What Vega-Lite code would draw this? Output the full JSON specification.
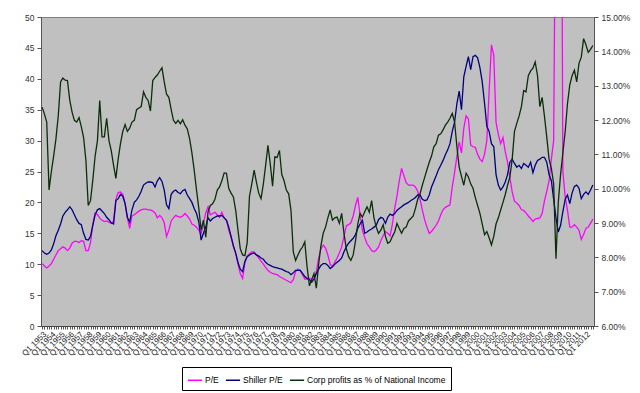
{
"$schema": "https://vega.github.io/schema/vega-lite/v6.json",
"width": 553, "height": 309,
"autosize": {"type": "none"},
"padding": {"left": 41, "top": 17, "right": 46, "bottom": 67},
"background": "white",
"config": {
  "font": "Liberation Sans",
  "view": {"fill": "#C0C0C0", "stroke": "#808080"},
  "axis": {"labelFont": "Liberation Sans", "labelColor": "#333333", "domainColor": "#555555", "tickColor": "#555555", "grid": false, "title": null, "labelFontSize": 8.5, "tickSize": 4, "labelPadding": 3}
},
"data": {"values": [
{"d":"1953-01","pe":10.1,"sh":12.2,"cp":0.1237},
{"d":"1953-04","pe":9.7,"sh":11.8,"cp":0.1217},
{"d":"1953-07","pe":9.4,"sh":11.6,"cp":0.1194},
{"d":"1953-10","pe":9.7,"sh":11.8,"cp":0.0996},
{"d":"1954-01","pe":10.1,"sh":12.3,"cp":0.1050},
{"d":"1954-04","pe":10.8,"sh":13.3,"cp":0.1095},
{"d":"1954-07","pe":11.5,"sh":14.6,"cp":0.1145},
{"d":"1954-10","pe":12.2,"sh":15.5,"cp":0.1212},
{"d":"1955-01","pe":12.5,"sh":16.5,"cp":0.1311},
{"d":"1955-04","pe":12.8,"sh":17.8,"cp":0.1322},
{"d":"1955-07","pe":12.6,"sh":18.4,"cp":0.1316},
{"d":"1955-10","pe":12.2,"sh":18.8,"cp":0.1315},
{"d":"1956-01","pe":12.6,"sh":19.3,"cp":0.1257},
{"d":"1956-04","pe":13.4,"sh":18.8,"cp":0.1223},
{"d":"1956-07","pe":13.7,"sh":18.0,"cp":0.1199},
{"d":"1956-10","pe":13.7,"sh":17.2,"cp":0.1194},
{"d":"1957-01","pe":13.5,"sh":16.6,"cp":0.1207},
{"d":"1957-04","pe":13.8,"sh":16.4,"cp":0.1181},
{"d":"1957-07","pe":13.7,"sh":15.0,"cp":0.1149},
{"d":"1957-10","pe":12.2,"sh":14.0,"cp":0.1082},
{"d":"1958-01","pe":12.2,"sh":13.9,"cp":0.0951},
{"d":"1958-04","pe":13.5,"sh":14.5,"cp":0.0965},
{"d":"1958-07","pe":16.5,"sh":16.3,"cp":0.1025},
{"d":"1958-10","pe":18.3,"sh":18.0,"cp":0.1095},
{"d":"1959-01","pe":18.0,"sh":18.8,"cp":0.1140},
{"d":"1959-04","pe":17.5,"sh":19.0,"cp":0.1257},
{"d":"1959-07","pe":17.1,"sh":18.6,"cp":0.1151},
{"d":"1959-10","pe":16.9,"sh":18.2,"cp":0.1151},
{"d":"1960-01","pe":17.0,"sh":17.6,"cp":0.1205},
{"d":"1960-04","pe":16.8,"sh":17.2,"cp":0.1140},
{"d":"1960-07","pe":16.6,"sh":16.7,"cp":0.1111},
{"d":"1960-10","pe":17.0,"sh":16.5,"cp":0.1068},
{"d":"1961-01","pe":20.5,"sh":20.3,"cp":0.1030},
{"d":"1961-04","pe":21.6,"sh":20.6,"cp":0.1086},
{"d":"1961-07","pe":21.7,"sh":21.3,"cp":0.1131},
{"d":"1961-10","pe":21.3,"sh":21.0,"cp":0.1167},
{"d":"1962-01","pe":19.8,"sh":19.8,"cp":0.1187},
{"d":"1962-04","pe":17.5,"sh":17.6,"cp":0.1167},
{"d":"1962-07","pe":15.8,"sh":16.8,"cp":0.1176},
{"d":"1962-10","pe":17.8,"sh":18.8,"cp":0.1194},
{"d":"1963-01","pe":18.0,"sh":20.0,"cp":0.1199},
{"d":"1963-04","pe":18.3,"sh":20.4,"cp":0.1230},
{"d":"1963-07","pe":18.6,"sh":21.0,"cp":0.1235},
{"d":"1963-10","pe":18.8,"sh":21.8,"cp":0.1239},
{"d":"1964-01","pe":18.9,"sh":22.8,"cp":0.1282},
{"d":"1964-04","pe":18.9,"sh":23.1,"cp":0.1266},
{"d":"1964-07","pe":18.8,"sh":23.3,"cp":0.1257},
{"d":"1964-10","pe":18.8,"sh":23.3,"cp":0.1226},
{"d":"1965-01","pe":18.6,"sh":23.2,"cp":0.1315},
{"d":"1965-04","pe":18.3,"sh":22.5,"cp":0.1324},
{"d":"1965-07","pe":17.5,"sh":23.5,"cp":0.1331},
{"d":"1965-10","pe":17.9,"sh":24.0,"cp":0.1342},
{"d":"1966-01","pe":17.5,"sh":23.4,"cp":0.1352},
{"d":"1966-04","pe":16.7,"sh":22.0,"cp":0.1311},
{"d":"1966-07","pe":14.5,"sh":19.6,"cp":0.1275},
{"d":"1966-10","pe":15.5,"sh":19.0,"cp":0.1266},
{"d":"1967-01","pe":17.0,"sh":21.3,"cp":0.1230},
{"d":"1967-04","pe":17.5,"sh":21.8,"cp":0.1199},
{"d":"1967-07","pe":17.9,"sh":22.0,"cp":0.1190},
{"d":"1967-10","pe":17.7,"sh":21.6,"cp":0.1199},
{"d":"1968-01","pe":17.6,"sh":21.4,"cp":0.1189},
{"d":"1968-04","pe":17.8,"sh":21.9,"cp":0.1201},
{"d":"1968-07","pe":18.2,"sh":22.1,"cp":0.1185},
{"d":"1968-10","pe":17.8,"sh":21.2,"cp":0.1174},
{"d":"1969-01","pe":17.3,"sh":20.6,"cp":0.1145},
{"d":"1969-04","pe":16.5,"sh":20.0,"cp":0.1104},
{"d":"1969-07","pe":16.3,"sh":19.0,"cp":0.1054},
{"d":"1969-10","pe":16.0,"sh":18.2,"cp":0.0996},
{"d":"1970-01","pe":15.5,"sh":16.8,"cp":0.0942},
{"d":"1970-04","pe":14.9,"sh":13.9,"cp":0.0879},
{"d":"1970-07","pe":16.6,"sh":15.0,"cp":0.0908},
{"d":"1970-10","pe":18.3,"sh":16.0,"cp":0.0859},
{"d":"1971-01","pe":19.3,"sh":17.5,"cp":0.0933},
{"d":"1971-04","pe":18.0,"sh":17.0,"cp":0.0951},
{"d":"1971-07","pe":18.2,"sh":17.4,"cp":0.0956},
{"d":"1971-10","pe":18.4,"sh":17.6,"cp":0.0969},
{"d":"1972-01","pe":18.0,"sh":17.8,"cp":0.0996},
{"d":"1972-04","pe":17.6,"sh":17.8,"cp":0.1005},
{"d":"1972-07","pe":18.4,"sh":17.9,"cp":0.1023},
{"d":"1972-10","pe":17.5,"sh":17.5,"cp":0.1046},
{"d":"1973-01","pe":17.1,"sh":17.1,"cp":0.1045},
{"d":"1973-04","pe":15.5,"sh":16.0,"cp":0.1000},
{"d":"1973-07","pe":14.4,"sh":14.5,"cp":0.0987},
{"d":"1973-10","pe":12.8,"sh":13.0,"cp":0.0976},
{"d":"1974-01","pe":11.8,"sh":11.8,"cp":0.0937},
{"d":"1974-04","pe":10.0,"sh":10.3,"cp":0.0879},
{"d":"1974-07","pe":8.5,"sh":9.2,"cp":0.0825},
{"d":"1974-10","pe":7.7,"sh":8.8,"cp":0.0807},
{"d":"1975-01","pe":10.2,"sh":10.5,"cp":0.0805},
{"d":"1975-04","pe":11.3,"sh":11.2,"cp":0.0843},
{"d":"1975-07","pe":11.7,"sh":11.5,"cp":0.0978},
{"d":"1975-10","pe":12.0,"sh":11.7,"cp":0.1014},
{"d":"1976-01","pe":12.0,"sh":11.8,"cp":0.1054},
{"d":"1976-04","pe":11.5,"sh":11.5,"cp":0.1019},
{"d":"1976-07","pe":11.0,"sh":11.3,"cp":0.0987},
{"d":"1976-10","pe":10.5,"sh":11.0,"cp":0.0971},
{"d":"1977-01","pe":10.0,"sh":10.8,"cp":0.1014},
{"d":"1977-04","pe":9.5,"sh":10.3,"cp":0.1068},
{"d":"1977-07","pe":9.0,"sh":10.0,"cp":0.1126},
{"d":"1977-10","pe":8.7,"sh":9.8,"cp":0.1073},
{"d":"1978-01","pe":8.5,"sh":9.6,"cp":0.1007},
{"d":"1978-04","pe":8.4,"sh":9.5,"cp":0.1093},
{"d":"1978-07","pe":8.3,"sh":9.4,"cp":0.1091},
{"d":"1978-10","pe":8.0,"sh":9.3,"cp":0.1111},
{"d":"1979-01","pe":7.8,"sh":9.2,"cp":0.1041},
{"d":"1979-04","pe":7.6,"sh":9.0,"cp":0.1023},
{"d":"1979-07","pe":7.4,"sh":8.8,"cp":0.0996},
{"d":"1979-10","pe":7.2,"sh":8.7,"cp":0.0985},
{"d":"1980-01","pe":7.0,"sh":8.3,"cp":0.0937},
{"d":"1980-04","pe":7.5,"sh":8.6,"cp":0.0816},
{"d":"1980-07","pe":8.8,"sh":9.0,"cp":0.0791},
{"d":"1980-10","pe":9.2,"sh":9.0,"cp":0.0807},
{"d":"1981-01","pe":9.0,"sh":9.0,"cp":0.0821},
{"d":"1981-04","pe":8.3,"sh":8.5,"cp":0.0830},
{"d":"1981-07","pe":7.6,"sh":8.0,"cp":0.0845},
{"d":"1981-10","pe":7.6,"sh":7.7,"cp":0.0771},
{"d":"1982-01","pe":7.7,"sh":7.5,"cp":0.0717},
{"d":"1982-04","pe":7.6,"sh":7.1,"cp":0.0735},
{"d":"1982-07","pe":7.6,"sh":7.6,"cp":0.0753},
{"d":"1982-10","pe":8.8,"sh":8.5,"cp":0.0710},
{"d":"1983-01","pe":11.0,"sh":9.2,"cp":0.0780},
{"d":"1983-04","pe":12.5,"sh":9.8,"cp":0.0834},
{"d":"1983-07","pe":13.1,"sh":10.1,"cp":0.0870},
{"d":"1983-10","pe":12.6,"sh":10.1,"cp":0.0888},
{"d":"1984-01","pe":11.5,"sh":9.8,"cp":0.0915},
{"d":"1984-04","pe":10.0,"sh":9.3,"cp":0.0938},
{"d":"1984-07","pe":9.6,"sh":9.6,"cp":0.0908},
{"d":"1984-10","pe":10.3,"sh":10.0,"cp":0.0915},
{"d":"1985-01","pe":11.0,"sh":10.3,"cp":0.0917},
{"d":"1985-04","pe":11.8,"sh":10.6,"cp":0.0899},
{"d":"1985-07","pe":12.8,"sh":11.0,"cp":0.0928},
{"d":"1985-10","pe":14.5,"sh":12.0,"cp":0.0870},
{"d":"1986-01","pe":16.2,"sh":12.8,"cp":0.0825},
{"d":"1986-04","pe":16.4,"sh":13.4,"cp":0.0802},
{"d":"1986-07","pe":16.7,"sh":13.8,"cp":0.0791},
{"d":"1986-10","pe":17.8,"sh":14.2,"cp":0.0807},
{"d":"1987-01","pe":19.5,"sh":14.8,"cp":0.0848},
{"d":"1987-04","pe":20.8,"sh":15.8,"cp":0.0897},
{"d":"1987-07","pe":18.0,"sh":16.5,"cp":0.0928},
{"d":"1987-10","pe":15.5,"sh":17.1,"cp":0.0917},
{"d":"1988-01","pe":14.3,"sh":15.0,"cp":0.0933},
{"d":"1988-04","pe":13.3,"sh":15.2,"cp":0.0947},
{"d":"1988-07","pe":12.8,"sh":15.5,"cp":0.0931},
{"d":"1988-10","pe":12.2,"sh":15.7,"cp":0.0965},
{"d":"1989-01","pe":12.0,"sh":16.0,"cp":0.0915},
{"d":"1989-04","pe":12.3,"sh":16.3,"cp":0.0888},
{"d":"1989-07","pe":12.8,"sh":17.2,"cp":0.0870},
{"d":"1989-10","pe":13.8,"sh":17.6,"cp":0.0879},
{"d":"1990-01","pe":14.6,"sh":17.4,"cp":0.0895},
{"d":"1990-04","pe":15.3,"sh":16.6,"cp":0.0861},
{"d":"1990-07","pe":15.0,"sh":17.6,"cp":0.0841},
{"d":"1990-10","pe":14.6,"sh":18.1,"cp":0.0845},
{"d":"1991-01","pe":16.5,"sh":17.9,"cp":0.0861},
{"d":"1991-04","pe":19.0,"sh":18.2,"cp":0.0874},
{"d":"1991-07","pe":21.0,"sh":18.7,"cp":0.0899},
{"d":"1991-10","pe":23.5,"sh":19.0,"cp":0.0884},
{"d":"1992-01","pe":25.5,"sh":19.3,"cp":0.0870},
{"d":"1992-04","pe":24.3,"sh":19.6,"cp":0.0884},
{"d":"1992-07","pe":23.2,"sh":19.8,"cp":0.0888},
{"d":"1992-10","pe":22.8,"sh":20.0,"cp":0.0906},
{"d":"1993-01","pe":22.8,"sh":20.3,"cp":0.0913},
{"d":"1993-04","pe":22.8,"sh":20.5,"cp":0.0920},
{"d":"1993-07","pe":22.5,"sh":20.8,"cp":0.0942},
{"d":"1993-10","pe":21.8,"sh":21.2,"cp":0.0969},
{"d":"1994-01","pe":20.5,"sh":21.2,"cp":0.0985},
{"d":"1994-04","pe":18.8,"sh":20.5,"cp":0.1010},
{"d":"1994-07","pe":17.2,"sh":20.3,"cp":0.1032},
{"d":"1994-10","pe":16.0,"sh":20.4,"cp":0.1055},
{"d":"1995-01","pe":15.0,"sh":21.2,"cp":0.1077},
{"d":"1995-04","pe":15.3,"sh":22.5,"cp":0.1095},
{"d":"1995-07","pe":15.8,"sh":23.4,"cp":0.1122},
{"d":"1995-10","pe":16.3,"sh":24.3,"cp":0.1131},
{"d":"1996-01","pe":17.0,"sh":25.3,"cp":0.1156},
{"d":"1996-04","pe":18.0,"sh":26.0,"cp":0.1160},
{"d":"1996-07","pe":18.8,"sh":26.8,"cp":0.1171},
{"d":"1996-10","pe":19.2,"sh":27.7,"cp":0.1185},
{"d":"1997-01","pe":19.4,"sh":28.5,"cp":0.1194},
{"d":"1997-04","pe":19.6,"sh":29.5,"cp":0.1205},
{"d":"1997-07","pe":22.5,"sh":31.5,"cp":0.1219},
{"d":"1997-10","pe":24.8,"sh":33.0,"cp":0.1194},
{"d":"1998-01","pe":27.5,"sh":36.0,"cp":0.1122},
{"d":"1998-04","pe":29.8,"sh":38.0,"cp":0.1063},
{"d":"1998-07","pe":28.0,"sh":35.0,"cp":0.1036},
{"d":"1998-10","pe":32.0,"sh":40.3,"cp":0.1010},
{"d":"1999-01","pe":34.0,"sh":42.0,"cp":0.1045},
{"d":"1999-04","pe":33.5,"sh":43.6,"cp":0.1034},
{"d":"1999-07","pe":29.3,"sh":41.5,"cp":0.1014},
{"d":"1999-10","pe":29.0,"sh":43.6,"cp":0.1001},
{"d":"2000-01","pe":28.9,"sh":43.8,"cp":0.0974},
{"d":"2000-04","pe":27.8,"sh":43.4,"cp":0.0951},
{"d":"2000-07","pe":27.0,"sh":41.8,"cp":0.0928},
{"d":"2000-10","pe":26.6,"sh":39.5,"cp":0.0897},
{"d":"2001-01","pe":27.8,"sh":36.0,"cp":0.0866},
{"d":"2001-04","pe":30.0,"sh":32.3,"cp":0.0875},
{"d":"2001-07","pe":38.0,"sh":31.5,"cp":0.0857},
{"d":"2001-10","pe":45.5,"sh":29.5,"cp":0.0836},
{"d":"2002-01","pe":43.8,"sh":29.0,"cp":0.0861},
{"d":"2002-04","pe":33.0,"sh":24.5,"cp":0.0897},
{"d":"2002-07","pe":31.0,"sh":22.8,"cp":0.0915},
{"d":"2002-10","pe":29.5,"sh":22.0,"cp":0.0938},
{"d":"2003-01","pe":30.5,"sh":22.5,"cp":0.0960},
{"d":"2003-04","pe":28.2,"sh":23.3,"cp":0.0983},
{"d":"2003-07","pe":26.5,"sh":24.5,"cp":0.1010},
{"d":"2003-10","pe":24.0,"sh":26.5,"cp":0.1034},
{"d":"2004-01","pe":21.7,"sh":27.0,"cp":0.1086},
{"d":"2004-04","pe":20.2,"sh":26.3,"cp":0.1167},
{"d":"2004-07","pe":19.9,"sh":25.7,"cp":0.1190},
{"d":"2004-10","pe":19.5,"sh":26.0,"cp":0.1212},
{"d":"2005-01","pe":18.8,"sh":25.5,"cp":0.1239},
{"d":"2005-04","pe":18.7,"sh":26.3,"cp":0.1286},
{"d":"2005-07","pe":18.3,"sh":26.0,"cp":0.1282},
{"d":"2005-10","pe":17.8,"sh":25.7,"cp":0.1329},
{"d":"2006-01","pe":17.4,"sh":26.5,"cp":0.1343},
{"d":"2006-04","pe":16.9,"sh":24.8,"cp":0.1351},
{"d":"2006-07","pe":17.3,"sh":26.0,"cp":0.1369},
{"d":"2006-10","pe":17.4,"sh":26.8,"cp":0.1329},
{"d":"2007-01","pe":17.5,"sh":27.0,"cp":0.1239},
{"d":"2007-04","pe":18.2,"sh":27.3,"cp":0.1266},
{"d":"2007-07","pe":20.2,"sh":27.3,"cp":0.1212},
{"d":"2007-10","pe":21.8,"sh":26.5,"cp":0.1151},
{"d":"2008-01","pe":23.5,"sh":24.5,"cp":0.1086},
{"d":"2008-04","pe":27.0,"sh":23.5,"cp":0.1059},
{"d":"2008-07","pe":30.0,"sh":20.5,"cp":0.1014},
{"d":"2008-10","pe":80.0,"sh":17.5,"cp":0.0796},
{"d":"2009-01","pe":130.0,"sh":15.2,"cp":0.0960},
{"d":"2009-04","pe":120.0,"sh":16.3,"cp":0.1041},
{"d":"2009-07","pe":25.0,"sh":18.5,"cp":0.1104},
{"d":"2009-10","pe":20.9,"sh":20.5,"cp":0.1167},
{"d":"2010-01","pe":18.7,"sh":21.2,"cp":0.1248},
{"d":"2010-04","pe":16.0,"sh":19.8,"cp":0.1302},
{"d":"2010-07","pe":16.0,"sh":21.5,"cp":0.1329},
{"d":"2010-10","pe":16.4,"sh":22.6,"cp":0.1345},
{"d":"2011-01","pe":16.0,"sh":22.8,"cp":0.1311},
{"d":"2011-04","pe":15.5,"sh":22.3,"cp":0.1365},
{"d":"2011-07","pe":14.0,"sh":20.6,"cp":0.1383},
{"d":"2011-10","pe":14.8,"sh":21.3,"cp":0.1437},
{"d":"2012-01","pe":15.8,"sh":21.7,"cp":0.1419},
{"d":"2012-04","pe":16.0,"sh":21.3,"cp":0.1397},
{"d":"2012-07","pe":16.6,"sh":22.0,"cp":0.1406},
{"d":"2012-10","pe":17.3,"sh":22.8,"cp":0.1417}
]},
"encoding": {
  "x": {"field": "d", "type": "temporal",
    "scale": {"type": "utc", "domain": [{"year": 1952, "month": 11, "date": 16, "utc": true}, {"year": 2012, "month": 11, "date": 16, "utc": true}]},
    "axis": {"tickCount": {"interval": "month", "step": 3}, "labelExpr": "utcmonth(datum.value) == 0 ? 'Q1 ' + utcyear(datum.value) : ''", "labelAngle": -45, "labelOverlap": false, "labelFlush": false, "labelBound": false, "labelFontSize": 8, "labelColor": "#222222", "labelPadding": 1, "tickSize": 3, "domainColor": "#444444"}}
},
"layer": [
  {"transform": [{"fold": ["pe", "sh"], "as": ["series", "v"]}],
   "mark": {"type": "line", "strokeWidth": 1.3, "clip": true},
   "encoding": {
     "y": {"field": "v", "type": "quantitative", "scale": {"domain": [0, 50], "nice": false},
       "axis": {"orient": "left", "values": [0, 5, 10, 15, 20, 25, 30, 35, 40, 45, 50]}},
     "color": {"field": "series", "type": "nominal",
       "scale": {"domain": ["pe", "sh", "cp"], "range": ["#FF00FF", "#000080", "#0a2e0a"]},
       "legend": {"orient": "none", "legendX": 141, "legendY": 350, "direction": "horizontal", "title": null,
         "symbolType": "stroke", "symbolSize": 200, "symbolStrokeWidth": 1.5, "labelFontSize": 8.5, "labelColor": "#000000",
         "strokeColor": "#000000", "fillColor": "#ffffff", "padding": 5, "columnPadding": 3, "labelOffset": 2,
         "labelExpr": "datum.label == 'pe' ? 'P/E' : datum.label == 'sh' ? 'Shiller P/E' : 'Corp profits as % of National Income'"}}
   }},
  {"mark": {"type": "line", "strokeWidth": 1.3},
   "encoding": {
     "y": {"field": "cp", "type": "quantitative", "scale": {"domain": [0.06, 0.15], "nice": false},
       "axis": {"orient": "right", "format": ".2%", "values": [0.06, 0.07, 0.08, 0.09, 0.10, 0.11, 0.12, 0.13, 0.14, 0.15]}},
     "color": {"datum": "cp"}
   }}
],
"resolve": {"scale": {"y": "independent"}}
}
